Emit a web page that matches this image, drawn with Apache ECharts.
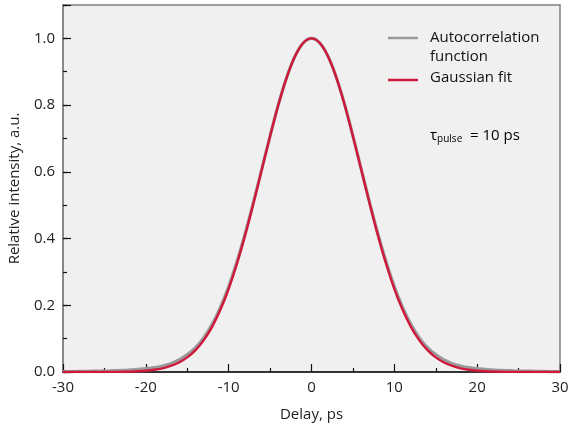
<!DOCTYPE html>
<html>
<head>
<meta charset="utf-8">
<script src="https://cdn.jsdelivr.net/npm/echarts@6/dist/echarts.min.js"></script>
<style>html,body{margin:0;padding:0;background:#fff}#c{width:570px;height:427px}</style>
</head>
<body>
<div id="c"></div>
<script>
const delay = [-30,-29,-28,-27,-26,-25,-24,-23,-22,-21,-20,-19,-18,-17,-16,-15,-14,-13,-12,-11,-10,-9,-8,-7,-6,-5,-4,-3,-2,-1,0,1,2,3,4,5,6,7,8,9,10,11,12,13,14,15,16,17,18,19,20,21,22,23,24,25,26,27,28,29,30];
const autocorr = [0.001,0.001,0.002,0.002,0.003,0.003,0.004,0.005,0.006,0.008,0.010,0.013,0.018,0.025,0.036,0.052,0.073,0.103,0.143,0.194,0.256,0.331,0.416,0.510,0.609,0.708,0.802,0.883,0.946,0.986,1.000,0.986,0.946,0.883,0.802,0.708,0.609,0.510,0.416,0.331,0.256,0.194,0.143,0.103,0.073,0.052,0.036,0.025,0.018,0.013,0.010,0.008,0.006,0.005,0.004,0.003,0.003,0.002,0.002,0.001,0.001];
const gaussFit = [0,0,0,0,0.0001,0.0002,0.0003,0.0006,0.0012,0.0022,0.0039,0.0066,0.0111,0.0181,0.0286,0.0439,0.0657,0.0956,0.1353,0.1863,0.2494,0.3247,0.4111,0.5063,0.6065,0.7066,0.8007,0.8825,0.9459,0.9862,1.0,0.9862,0.9459,0.8825,0.8007,0.7066,0.6065,0.5063,0.4111,0.3247,0.2494,0.1863,0.1353,0.0956,0.0657,0.0439,0.0286,0.0181,0.0111,0.0066,0.0039,0.0022,0.0012,0.0006,0.0003,0.0002,0.0001,0,0,0,0];
const yTickLabels = ['0.0','0.2','0.4','0.6','0.8','1.0'];
const seriesNames = ['Autocorrelation\nfunction','Gaussian fit'];

const FONT = 'Open Sans';
const chart = echarts.init(document.getElementById('c'), null, {renderer:'canvas'});
const pairs = (ys) => delay.map((x,i)=>[x, ys[i]]);
chart.setOption({
  animation:false,
  textStyle:{fontFamily:FONT},
  grid:{left:63,right:10,top:5,bottom:55,outerBoundsMode:'none',containLabel:false,show:true,backgroundColor:'#f0f0f0',borderColor:'#808080',borderWidth:1.5},
  xAxis:{type:'value',min:-30,max:30,interval:10,
    name:'Delay, ps',nameLocation:'middle',nameGap:35,
    nameTextStyle:{fontFamily:FONT,fontSize:15,color:'#222'},
    axisLine:{lineStyle:{color:'#111',width:1.5}},
    axisTick:{inside:true,length:8,lineStyle:{color:'#111',width:1.2}},
    minorTick:{show:true,splitNumber:2,length:4,lineStyle:{color:'#111',width:1.2}},
    splitLine:{show:false},
    axisLabel:{fontFamily:FONT,fontSize:15,color:'#222',margin:8}},
  yAxis:[{type:'value',min:0,max:1.1,interval:0.2,
    name:'Relative intensity, a.u.',nameLocation:'middle',nameGap:41,nameRotate:90,
    nameTextStyle:{fontFamily:FONT,fontSize:15,color:'#222'},
    axisLine:{show:true,onZero:false,lineStyle:{color:'#808080',width:1.5}},
    axisTick:{inside:true,length:8,lineStyle:{color:'#111',width:1.2}},
    splitLine:{show:false},
    axisLabel:{fontFamily:FONT,fontSize:15,color:'#222',margin:8,
      formatter:(v)=>{const i=Math.round(v/0.2); return (Math.abs(v-i*0.2)<1e-6 && i<yTickLabels.length)?yTickLabels[i]:'';}}},
   {type:'value',min:0,max:1.1,interval:0.1,position:'left',
    axisLine:{show:false,onZero:false},
    axisTick:{show:true,inside:true,length:4,lineStyle:{color:'#111',width:1.2}},
    splitLine:{show:false},axisLabel:{show:false}}],
  series:[
    {name:seriesNames[0],type:'line',data:pairs(autocorr),smooth:0.3,showSymbol:false,
      lineStyle:{color:'#9a9a9a',width:3.2},z:2},
    {name:seriesNames[1],type:'line',data:pairs(gaussFit),smooth:0.3,showSymbol:false,
      lineStyle:{color:'#d0183a',width:2.4},z:3}
  ],
  graphic:[
    {type:'line',shape:{x1:388,y1:38,x2:418,y2:38},style:{stroke:'#9a9a9a',lineWidth:2.5},z:10},
    {type:'text',x:430,y:28,style:{text:seriesNames[0],font:'15px "Open Sans"',fill:'#111',lineHeight:19},z:10},
    {type:'line',shape:{x1:388,y1:80,x2:418,y2:80},style:{stroke:'#d0183a',lineWidth:2.5},z:10},
    {type:'text',x:430,y:70,style:{text:seriesNames[1],font:'15px "Open Sans"',fill:'#111'},z:10},
    {type:'text',x:430,y:127,style:{text:'{a|τ}{b|pulse}{a|  = 10 ps}',
      rich:{a:{fontFamily:FONT,fontSize:15,color:'#111'},b:{fontFamily:FONT,fontSize:10,color:'#111',padding:[7,0,0,0]}}},z:10}
  ]
});
</script>
</body>
</html>
